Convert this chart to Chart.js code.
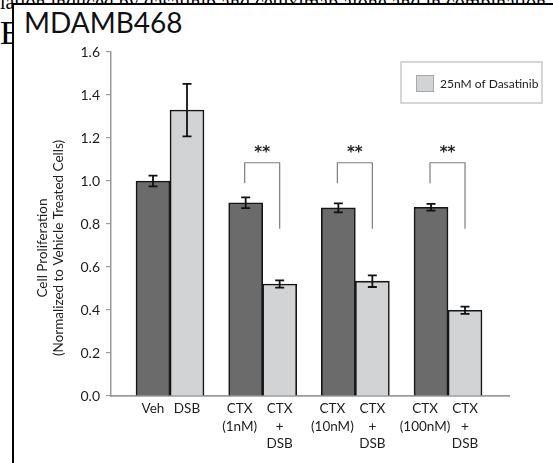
<!DOCTYPE html>
<html>
<head>
<meta charset="utf-8">
<title>MDAMB468</title>
<script src="https://cdn.jsdelivr.net/npm/chart.js@4.4.1/dist/chart.umd.min.js"></script>
<style>
  body { margin: 0; width: 553px; height: 463px; overflow: hidden; position: relative; background: #fff; }
  .page { position: absolute; left: 0; white-space: nowrap; font-family: "Liberation Serif", serif; color: #000; }
  #frame { position: absolute; left: 12px; top: 3px; right: 0; bottom: 0; border-left: 2px solid #000; border-top: 2px solid #000; background: #fff; }
  #title { position: absolute; left: 24px; top: 5px; font: 28px Lato, sans-serif; color: #111; line-height: 34px; }
  #chart { position: absolute; left: 0; top: 0; }
</style>
</head>
<body>
<div class="page" style="top:-8px;font-size:20px;line-height:20px">lation induced by dasatinib and cetuximab alone and in combination</div>
<div class="page" style="top:16px;font-size:34px;line-height:34px">E</div>
<div id="frame"></div>
<div id="title">MDAMB468</div>
<canvas id="chart" width="553" height="463"></canvas>
<script>
// data
const groups = ['Veh', 'CTX 1nM', 'CTX 10nM', 'CTX 100nM'];
const controlLabels = [['Veh'], ['CTX', '(1nM)'], ['CTX', '(10nM)'], ['CTX', '(100nM)']];
const dasatinibLabels = [['DSB'], ['CTX', '+', 'DSB'], ['CTX', '+', 'DSB'], ['CTX', '+', 'DSB']];
const controlValues = [1.00, 0.899, 0.875, 0.878];
const controlErrors = [0.025, 0.025, 0.021, 0.016];
const dasatinibValues = [1.33, 0.521, 0.534, 0.399];
const dasatinibErrors = [0.122, 0.017, 0.027, 0.017];
const significance = ['', '**', '**', '**'];
const yMin = 0, yMax = 1.6, yStep = 0.2;

const FONT = 'Lato, sans-serif';
const TEXT = '#1f1c1d';
const AXIS = '#9a9a9a';

// error bars on top of every bar
const errorBars = {
  id: 'errorBars',
  afterDatasetsDraw(chart) {
    const y = chart.scales.y;
    const ctx = chart.ctx;
    ctx.save();
    ctx.strokeStyle = '#111';
    ctx.lineWidth = 1.8;
    chart.data.datasets.forEach((ds, di) => {
      chart.getDatasetMeta(di).data.forEach((bar, i) => {
        const v = ds.data[i].y, e = ds.errors[i];
        const top = y.getPixelForValue(v + e), bot = y.getPixelForValue(v - e);
        ctx.beginPath();
        ctx.moveTo(bar.x, top); ctx.lineTo(bar.x, bot);
        ctx.moveTo(bar.x - 4.5, top); ctx.lineTo(bar.x + 4.5, top);
        ctx.moveTo(bar.x - 4.5, bot); ctx.lineTo(bar.x + 4.5, bot);
        ctx.stroke();
      });
    });
    ctx.restore();
  }
};

// significance brackets
const brackets = {
  id: 'brackets',
  afterDatasetsDraw(chart) {
    const y = chart.scales.y;
    const ctx = chart.ctx;
    const a = chart.getDatasetMeta(0).data, b = chart.getDatasetMeta(1).data;
    ctx.save();
    significance.forEach((s, i) => {
      if (!s) return;
      const x1 = a[i].x - 1, x2 = b[i].x;
      const top = y.getPixelForValue(1.085);
      ctx.strokeStyle = '#7d7d7d';
      ctx.lineWidth = 1.2;
      ctx.beginPath();
      ctx.moveTo(x1, y.getPixelForValue(0.99));
      ctx.lineTo(x1, top);
      ctx.lineTo(x2, top);
      ctx.lineTo(x2, y.getPixelForValue(0.778));
      ctx.stroke();
      ctx.fillStyle = '#222';
      ctx.font = 'bold 15px "DejaVu Sans"';
      ctx.textAlign = 'center';
      ctx.textBaseline = 'middle';
      ctx.fillText(s, (x1 + x2) / 2, top - 10);
    });
    ctx.restore();
  }
};

// labels under each bar, y title, legend box
const decorations = {
  id: 'decorations',
  afterDraw(chart) {
    const ctx = chart.ctx;
    const area = chart.chartArea;
    ctx.save();
    ctx.fillStyle = TEXT;
    ctx.font = '13.5px ' + FONT;
    ctx.textAlign = 'center';
    ctx.textBaseline = 'middle';
    [controlLabels, dasatinibLabels].forEach((labels, di) => {
      chart.getDatasetMeta(di).data.forEach((bar, i) => {
        const shift = (di === 0 && i > 0) ? -6 : 0;
        labels[i].forEach((line, k) => ctx.fillText(line, bar.x + shift, area.bottom + 13 + k * 17.5));
      });
    });

    // y axis title
    ctx.save();
    ctx.font = '13.5px ' + FONT;
    ctx.translate(43, 248);
    ctx.rotate(-Math.PI / 2);
    ctx.fillText('Cell Proliferation', 0, 0);
    ctx.fillText('(Normalized to Vehicle Treated Cells)', 0, 16);
    ctx.restore();

    // legend
    ctx.strokeStyle = '#c9c9c9';
    ctx.lineWidth = 1.5;
    ctx.strokeRect(401, 62, 141, 41);
    ctx.fillStyle = chart.data.datasets[1].backgroundColor;
    ctx.fillRect(416, 75, 18, 17);
    ctx.strokeStyle = '#a9a9a9';
    ctx.lineWidth = 1;
    ctx.strokeRect(416.5, 75.5, 17, 16);
    ctx.fillStyle = TEXT;
    ctx.font = '12px ' + FONT;
    ctx.textAlign = 'left';
    ctx.fillText(chart.data.datasets[1].label, 440, 84);
    ctx.restore();
  }
};

const toPoints = vals => vals.map((v, i) => ({ x: i + 1, y: v }));

new Chart(document.getElementById('chart'), {
  type: 'bar',
  data: {
    datasets: [
      {
        label: 'Vehicle',
        data: toPoints(controlValues),
        errors: controlErrors,
        backgroundColor: '#6b6b6b',
        borderColor: '#151515',
        borderWidth: 1.6,
        barThickness: 34
      },
      {
        label: '25nM of Dasatinib',
        data: toPoints(dasatinibValues),
        errors: dasatinibErrors,
        backgroundColor: '#d2d3d5',
        borderColor: '#151515',
        borderWidth: 1.6,
        barThickness: 34
      }
    ]
  },
  options: {
    responsive: false,
    animation: false,
    devicePixelRatio: 1,
    layout: { padding: { top: 52, right: 44, bottom: 0, left: 0 } },
    plugins: { legend: { display: false }, tooltip: { enabled: false } },
    scales: {
      x: {
        type: 'linear',
        offset: false,
        min: 0.3633,
        max: 4.658,
        grid: { display: false, drawTicks: false, offset: false },
        border: { display: true, color: AXIS, width: 1.8 },
        ticks: { display: false },
        afterFit: s => { s.height = 67; }
      },
      y: {
        min: yMin,
        max: yMax,
        grid: { drawOnChartArea: false, drawTicks: true, tickLength: 5, color: AXIS, lineWidth: 1.2 },
        border: { display: true, color: AXIS, width: 1.5 },
        ticks: {
          stepSize: yStep,
          padding: 6,
          color: TEXT,
          font: { family: FONT, size: 14 },
          callback: v => v.toFixed(1)
        },
        afterFit: s => { s.width = 111; }
      }
    }
  },
  plugins: [errorBars, brackets, decorations]
});
</script>
</body>
</html>
